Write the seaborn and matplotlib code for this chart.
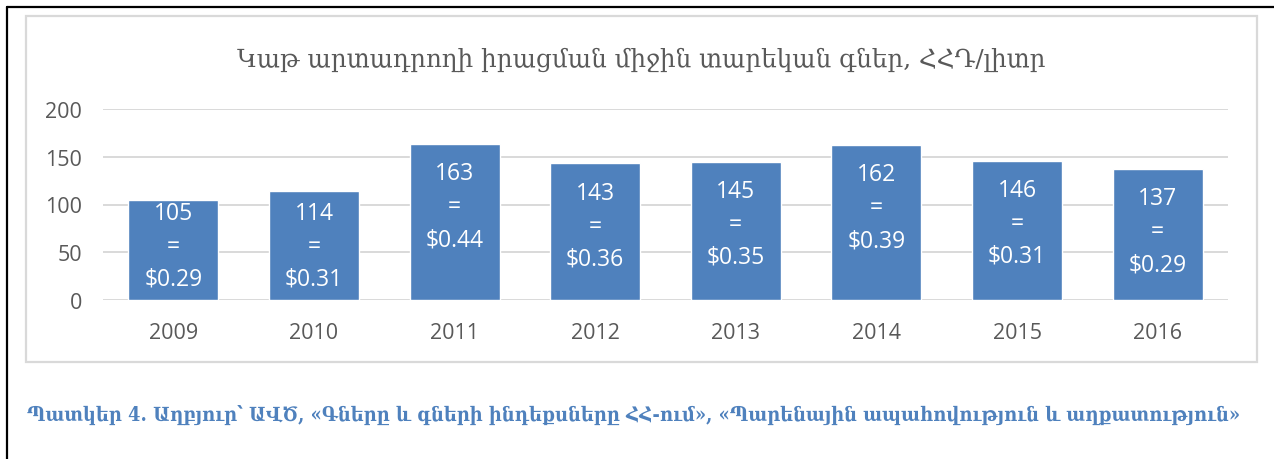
import numpy as np
import pandas as pd
import matplotlib
matplotlib.use("Agg")
import matplotlib.pyplot as plt
import seaborn as sns
from matplotlib.patches import Rectangle
from matplotlib.lines import Line2D

# Տվյալներ
years = ["2009", "2010", "2011", "2012", "2013", "2014", "2015", "2016"]
price_amd = [105, 114, 163, 143, 145, 162, 146, 137]
price_usd = ["$0.29", "$0.31", "$0.44", "$0.36", "$0.35", "$0.39", "$0.31", "$0.29"]
y_ticks = [0, 50, 100, 150, 200]

title = "Կաթ արտադրողի իրացման միջին տարեկան գներ, ՀՀԴ/լիտր"
caption = ("Պատկեր 4. Աղբյուր՝ ԱՎԾ, «Գները և գների ինդեքսները ՀՀ-ում», "
           "«Պարենային ապահովություն և աղքատություն»")

df = pd.DataFrame({"Տարի": years, "Գին": price_amd})

sns.set_style("white")
plt.rcParams["font.family"] = ["Open Sans", "DejaVu Sans"]

blue = "#4F81BD"
grey_txt = "#595959"
grid_c = "#D9D9D9"

fig = plt.figure(figsize=(12.74, 4.6), dpi=100)
ax = fig.add_axes([103 / 1274, 1 - 301 / 460, 1125 / 1274, 191 / 460])

sns.barplot(data=df, x="Տարի", y="Գին", color=blue, saturation=1, width=0.64, ax=ax, zorder=3)

ax.set_ylim(0, 200)
ax.set_yticks(y_ticks)
ax.yaxis.grid(True, color=grid_c, linewidth=1.4, zorder=0)
ax.set_axisbelow(True)
for s in ax.spines.values():
    s.set_visible(False)
ax.set_xlabel("")
ax.set_ylabel("")
ax.tick_params(axis="both", length=0, labelsize=15.5, labelcolor=grey_txt)
ax.tick_params(axis="x", pad=16)
ax.tick_params(axis="y", pad=15)

# Պիտակներ սյուների ներսում
for i, (v, usd) in enumerate(zip(price_amd, price_usd)):
    yc = max(v - 65, 57)
    ax.text(i, yc, f"{v}\n=\n{usd}", ha="center", va="center", color="white",
            fontsize=16.5, linespacing=1.5, zorder=4)

serif = ["DejaVu Serif", "DejaVu Sans"]
t = fig.text(641 / 1274, 1 - 60 / 460, title, ha="center", va="center",
             fontsize=18, color=grey_txt, family=serif)
c = fig.text(27 / 1274, 1 - 415 / 460, caption, ha="left", va="center",
             fontsize=13, color=blue, fontweight="semibold", fontstretch="condensed",
             family=serif)

# տեքստերի լայնությունը հարմարեցնել
r = fig.canvas.get_renderer()
for txt, target in [(t, 807), (c, 1205)]:
    w = txt.get_window_extent(renderer=r).width
    txt.set_fontsize(txt.get_fontsize() * target / w)

# Շրջանակներ
fig.patches.append(Rectangle((26 / 1274, 1 - 363 / 460), (1257 - 26) / 1274, (363 - 17) / 460,
                             transform=fig.transFigure, fill=False, edgecolor=grid_c, linewidth=1.6))
fig.lines.append(Line2D([7 / 1274, 7 / 1274], [0, 1 - 7.5 / 460], transform=fig.transFigure,
                        color="black", linewidth=1.6))
fig.lines.append(Line2D([7 / 1274, 1], [1 - 7.5 / 460, 1 - 7.5 / 460], transform=fig.transFigure,
                        color="black", linewidth=1.6))

fig.savefig("out.png", dpi=100)
